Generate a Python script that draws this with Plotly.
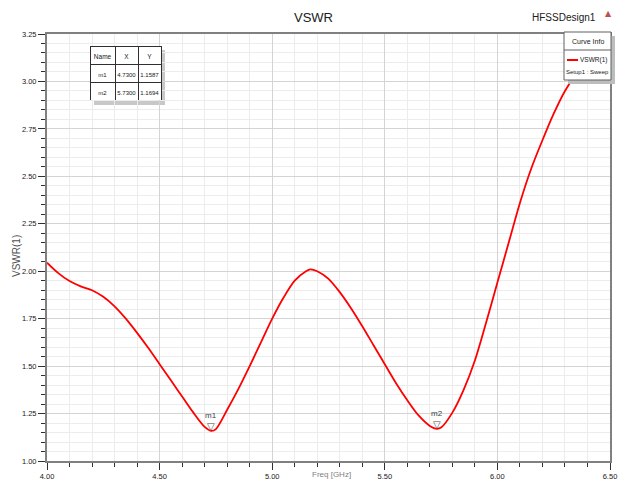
import plotly.graph_objects as go

# ---------------- data ----------------
freq = [4.00, 4.05, 4.10, 4.15, 4.20, 4.25, 4.30, 4.35, 4.40, 4.45, 4.50, 4.55,
        4.60, 4.65, 4.70, 4.73, 4.75, 4.80, 4.85, 4.90, 4.95, 5.00, 5.05, 5.10,
        5.15, 5.17, 5.20, 5.25, 5.30, 5.35, 5.40, 5.45, 5.50, 5.55, 5.60, 5.65,
        5.70, 5.73, 5.75, 5.80, 5.85, 5.90, 5.95, 6.00, 6.05, 6.10, 6.15, 6.20,
        6.25, 6.30, 6.35, 6.40, 6.45, 6.50]
vswr = [2.045, 1.99, 1.948, 1.92, 1.90, 1.865, 1.815, 1.75, 1.675, 1.595, 1.51, 1.425,
        1.34, 1.255, 1.18, 1.1587, 1.168, 1.27, 1.38, 1.50, 1.625, 1.75, 1.86, 1.95,
        2.0, 2.01, 2.0, 1.96, 1.89, 1.805, 1.71, 1.61, 1.51, 1.41, 1.32, 1.24,
        1.185, 1.1694, 1.176, 1.255, 1.375, 1.53, 1.73, 1.94, 2.15, 2.36, 2.54, 2.69,
        2.83, 2.95, 3.04, 3.11, 3.17, 3.22]

marker_names = ["m1", "m2"]
marker_x = [4.7300, 5.7300]
marker_y = [1.1587, 1.1694]

table_header = ["Name", "X", "Y"]
series_name = "VSWR(1)"
series_setup = "Setup1 : Sweep"
title_text = "VSWR"
design_name = "HFSSDesign1"
y_title = "VSWR(1)"
x_title = "Freq [GHz]"

FONT = "Liberation Sans Narrow, Arial Narrow, Liberation Sans, Arial, sans-serif"
W, H = 622, 482
ML, MR, MT, MB = 47, 12, 34, 21
PW, PH = W - ML - MR, H - MT - MB


def px(xp):
    return (xp - ML) / PW


def py(yp):
    return 1 - (yp - MT) / PH


def label(xp, yp, text, size, color="#202020", xanchor="center",
          yanchor="middle", family=FONT, angle=0):
    return dict(x=px(xp), y=py(yp), xref="paper", yref="paper", text=text,
                showarrow=False, xanchor=xanchor, yanchor=yanchor,
                textangle=angle, font=dict(family=family, size=size, color=color))


fig = go.Figure()

fig.add_trace(go.Scatter(
    x=freq, y=vswr, mode="lines", name=series_name,
    line=dict(color="#ff0000", width=1.8, shape="spline", smoothing=0.8),
    showlegend=False, hoverinfo="x+y"))

# marker table
fig.add_trace(go.Table(
    domain=dict(x=[px(90), px(161)], y=[py(101), py(46)]),
    columnwidth=[25, 23, 23],
    header=dict(values=table_header, height=18, align="center",
                fill_color="white", line=dict(color="#303030", width=1),
                font=dict(family=FONT, size=6.5, color="#202020")),
    cells=dict(values=[marker_names,
                       [f"{v:.4f}" for v in marker_x],
                       [f"{v:.4f}" for v in marker_y]],
               height=18, align="center", fill_color="white",
               line=dict(color="#303030", width=1),
               font=dict(family=FONT, size=6, color="#202020"))))

shapes = []
annotations = []

# table shadow
shapes.append(dict(type="rect", xref="paper", yref="paper", layer="below",
                   x0=px(94), x1=px(165), y0=py(105), y1=py(50),
                   fillcolor="#c8c8c8", line=dict(width=0)))

# markers m1/m2
for n, xv, yv in zip(marker_names, marker_x, marker_y):
    annotations.append(dict(x=xv, y=yv, xref="x", yref="y", text="▽",
                            showarrow=False, xanchor="center", yanchor="bottom",
                            yshift=-3,
                            font=dict(family="DejaVu Sans", size=10, color="#505050")))
    annotations.append(dict(x=xv, y=yv, xref="x", yref="y", text=n,
                            showarrow=False, xanchor="center", yanchor="bottom",
                            yshift=9,
                            font=dict(family=FONT, size=8, color="#404040")))

# legend box ("Curve Info")
shapes.append(dict(type="rect", xref="paper", yref="paper",
                   x0=px(568), x1=px(615), y0=py(84), y1=py(36),
                   fillcolor="#bdbdbd", line=dict(width=0)))
shapes.append(dict(type="rect", xref="paper", yref="paper",
                   x0=px(564), x1=px(611), y0=py(80), y1=py(32),
                   fillcolor="white", line=dict(color="#606060", width=1)))
shapes.append(dict(type="line", xref="paper", yref="paper",
                   x0=px(564), x1=px(611), y0=py(50), y1=py(50),
                   line=dict(color="#606060", width=1)))
shapes.append(dict(type="line", xref="paper", yref="paper",
                   x0=px(567), x1=px(578), y0=py(60), y1=py(60),
                   line=dict(color="#ff0000", width=2)))
annotations.append(label(587.5, 41.5, "Curve Info", 7))
annotations.append(label(609, 60.5, series_name, 6.5, xanchor="right"))
annotations.append(label(587.5, 72, series_setup, 6))

# design name + logo
annotations.append(label(598, 18, design_name, 10, xanchor="right"))
annotations.append(label(608, 14, "▲", 8, color="#c05050", family="DejaVu Sans"))

# title
annotations.append(label(313, 18, title_text, 13))

# axis titles
annotations.append(label(16, 256, y_title, 10, color="#505050", angle=-90))
annotations.append(label(331, 481, x_title, 8, color="#808080", yanchor="bottom"))

axis_common = dict(
    showline=True, mirror=True, linecolor="#808080", linewidth=2,
    ticks="outside", tickcolor="#303030", ticklen=7, tickwidth=1,
    tickfont=dict(family=FONT, size=7.5, color="#202020"),
    tickformat=".2f", zeroline=False, automargin=False,
    showgrid=True, gridcolor="#d4d4d4", gridwidth=1,
)

fig.update_layout(
    width=W, height=H,
    margin=dict(l=ML, r=MR, t=MT, b=MB),
    paper_bgcolor="white", plot_bgcolor="white",
    showlegend=False,
    shapes=shapes, annotations=annotations,
    xaxis=dict(range=[4.0, 6.5], dtick=0.5, tick0=4.0,
               minor=dict(dtick=0.1, ticks="outside", ticklen=4, tickcolor="#303030",
                          showgrid=True, gridcolor="#ececec", gridwidth=1),
               **axis_common),
    yaxis=dict(range=[1.0, 3.25], dtick=0.25, tick0=1.0,
               minor=dict(dtick=0.05, ticks="outside", ticklen=4, tickcolor="#303030",
                          showgrid=True, gridcolor="#ececec", gridwidth=1),
               **axis_common),
)

fig.write_html("out.html")
